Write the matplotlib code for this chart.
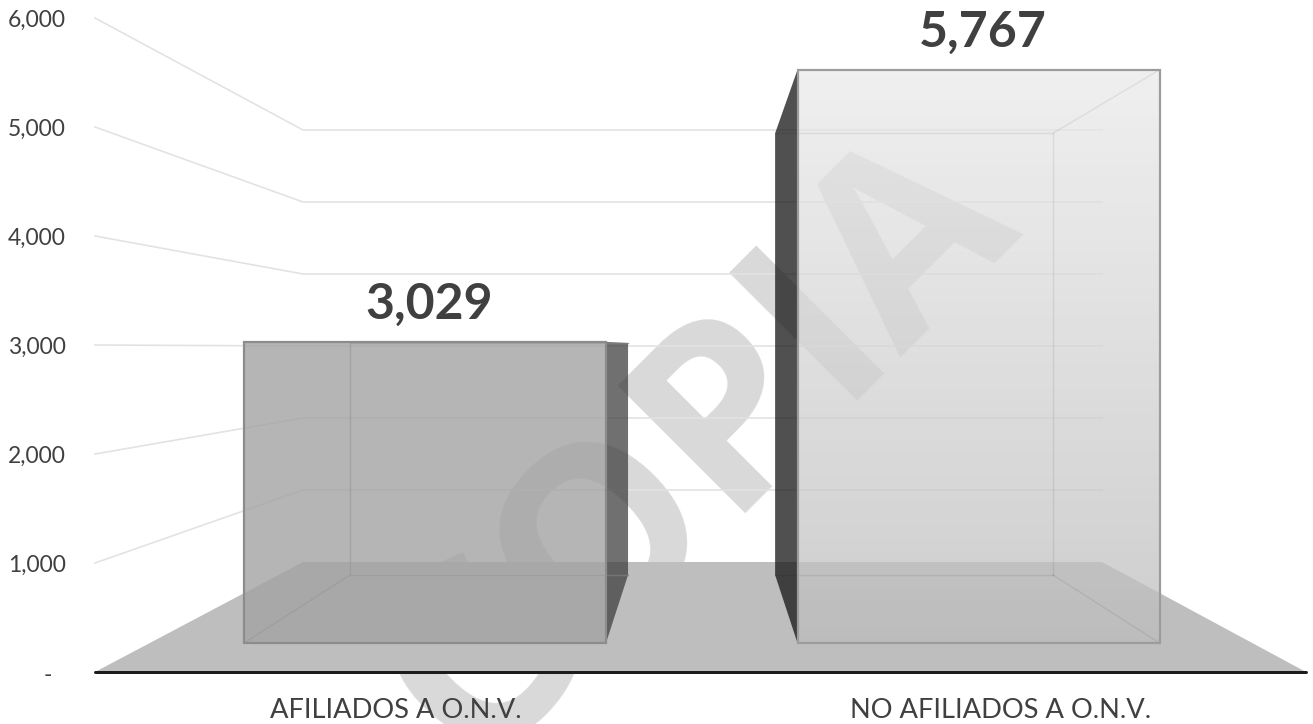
import numpy as np
import matplotlib
matplotlib.use("Agg")
import matplotlib.pyplot as plt
from matplotlib.patches import Polygon

categories = ["AFILIADOS A O.N.V.", "NO AFILIADOS A O.N.V."]
values = [3029, 5767]
value_labels = ["3,029", "5,767"]
axis_ticks = [0, 1000, 2000, 3000, 4000, 5000, 6000]
axis_tick_labels = ["-", "1,000", "2,000", "3,000", "4,000", "5,000", "6,000"]
watermark = "COPIA"

W, H = 1313, 724
plt.rcParams["font.family"] = ["Lato", "DejaVu Sans"]
fig = plt.figure(figsize=(W / 100, H / 100), dpi=100, facecolor="white")
ax = fig.add_axes([0, 0, 1, 1])
ax.set_xlim(0, W)
ax.set_ylim(H, 0)
ax.axis("off")
PX = 0.72

# perspective scale planes: (baseline, pixels per unit)
PLANE_AXIS = (672.0, 0.109)
PLANE_WALL = (562.0, 0.072)
PLANE_FRONT = (643.0, 0.0994)
PLANE_BACK = (575.0, 0.0766)
VP_X, BACK_K = 701.0, 0.768
SLOT, HALF = 553.5, 181.0


def vy(v, plane):
    return plane[0] - v * plane[1]


def front_x(i, side):
    return VP_X + 0.75 + (i - 0.5) * SLOT + side * HALF


def back_x(i, side):
    return VP_X + (front_x(i, side) - VP_X) * BACK_K


TEXT = "#404040"

# watermark, behind the chart
ax.text(473, 771, watermark, rotation=45, rotation_mode="anchor", ha="left", va="baseline",
        fontsize=182, fontweight="bold", family="Open Sans", color="#d9d9d9", zorder=1, clip_on=True)

# gridlines: side wall then back wall
LX0, LX1, RX1, RX0 = 95, 303, 1102, 1306
for t in axis_ticks[1:]:
    ax.plot([LX0, LX1, RX1], [vy(t, PLANE_AXIS), vy(t, PLANE_WALL), vy(t, PLANE_WALL)],
            color="#e2e2e2", lw=1.6 * PX, zorder=2, solid_joinstyle="miter")

# floor
ax.add_patch(Polygon([(LX0, vy(0, PLANE_AXIS)), (LX1, vy(0, PLANE_WALL)),
                      (RX1, vy(0, PLANE_WALL)), (RX0, vy(0, PLANE_AXIS))],
                     closed=True, fc="#bebebe", ec="none", zorder=3))
ax.plot([LX0, RX0], [671.5, 671.5], color="#1c1c1c", lw=3 * PX, zorder=4, solid_capstyle="round")

# bars
for i, v in enumerate(values):
    fl, fr = front_x(i, -1), front_x(i, 1)
    bl, br = back_x(i, -1), back_x(i, 1)
    ft, fb = vy(v, PLANE_FRONT), vy(0, PLANE_FRONT)
    bt, bb = vy(v, PLANE_BACK), vy(0, PLANE_BACK)
    if i == 0:
        side = [(fr, ft), (br, bt), (br, bb), (fr, fb)]
        ax.add_patch(Polygon(side, closed=True, fc="#404040", alpha=0.75, ec="none", zorder=5))
        inner = "#7f7f7f"
        ax.plot([bl, bl, br], [bt, bb, bb], color=inner, alpha=0.75, lw=1.4 * PX, zorder=5)
        ax.plot([fl, bl], [fb, bb], color=inner, alpha=0.75, lw=1.4 * PX, zorder=5)
        ax.plot([bl, br], [bt, bt], color=inner, alpha=0.75, lw=1.4 * PX, zorder=5)
        ax.add_patch(Polygon([(fl, ft), (fr, ft), (fr, fb), (fl, fb)], closed=True,
                             fc="#a3a3a3", alpha=0.8, ec="none", zorder=6))
        edge = "#8c8c8c"
    else:
        side = [(fl, ft), (bl, bt), (bl, bb), (fl, fb)]
        ax.add_patch(Polygon(side, closed=True, fc="#151515", alpha=0.75, ec="none", zorder=5))
        # gradient front face
        grey = np.linspace(0.92, 0.74, 256)
        rgba = np.ones((256, 1, 4))
        rgba[:, 0, 0] = rgba[:, 0, 1] = rgba[:, 0, 2] = grey
        rgba[:, 0, 3] = 0.74
        im = ax.imshow(rgba, extent=(fl, fr, fb, ft), aspect="auto", zorder=6, interpolation="bilinear")
        im.set_clip_path(Polygon([(fl, ft), (fr, ft), (fr, fb), (fl, fb)], closed=True,
                                 transform=ax.transData))
        ax.set_xlim(0, W)
        ax.set_ylim(H, 0)
        inner = "#000000"
        ax.plot([bl, br, br], [bt, bt, bb], color=inner, alpha=0.07, lw=1.4 * PX, zorder=7)
        ax.plot([bl, br], [bb, bb], color=inner, alpha=0.07, lw=1.4 * PX, zorder=7)
        ax.plot([fr, br], [ft, bt], color=inner, alpha=0.07, lw=1.4 * PX, zorder=7)
        ax.plot([fr, br], [fb, bb], color=inner, alpha=0.07, lw=1.4 * PX, zorder=7)
        edge = "#9c9c9c"
    ax.add_patch(Polygon([(fl, ft), (fr, ft), (fr, fb), (fl, fb)], closed=True,
                         fc="none", ec=edge, lw=2.2 * PX, zorder=8, joinstyle="miter"))
    ax.text((fl + fr) / 2 + 4, ft - 23, value_labels[i], ha="center", va="baseline",
            fontsize=36, fontweight="bold", color=TEXT, zorder=9)

# axis tick labels
for t, lab in zip(axis_ticks, axis_tick_labels):
    if lab == "-":
        ax.text(48, vy(t, PLANE_AXIS) + 3, lab, ha="center", va="center", fontsize=16.5, color=TEXT, zorder=9)
    else:
        ax.text(66, vy(t, PLANE_AXIS), lab, ha="right", va="center_baseline", fontsize=16.5, color=TEXT, zorder=9)

# category labels
for c, cat in zip([395.5, 1000.5], categories):
    ax.text(c, 718, cat, ha="center", va="baseline", fontsize=19.6, color=TEXT, zorder=9)

fig.savefig("out.png", dpi=100, facecolor="white")
